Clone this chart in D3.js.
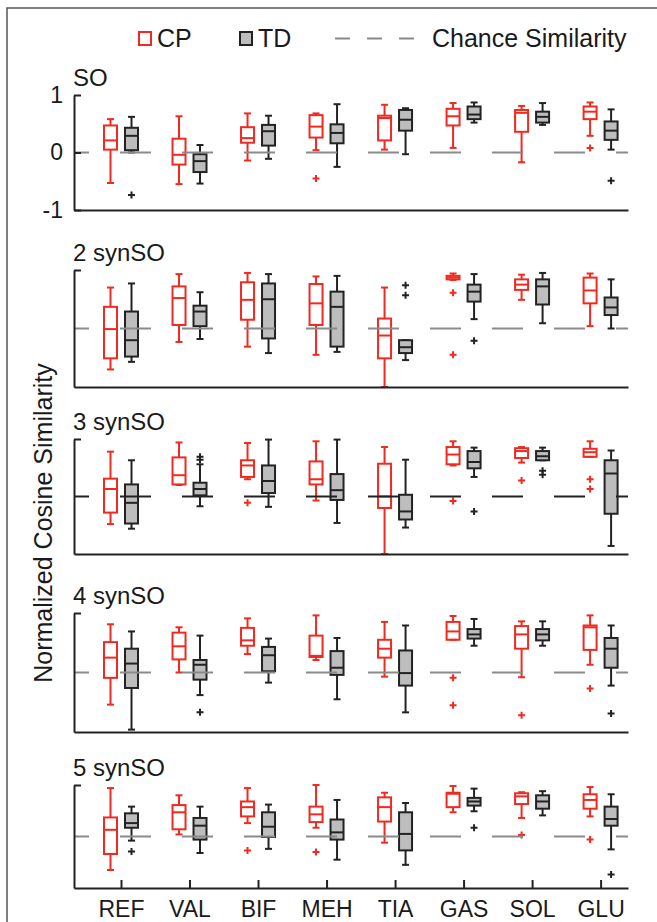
<!DOCTYPE html>
<html><head><meta charset="utf-8">
<script src="https://cdn.jsdelivr.net/npm/d3@7"></script>
<style>body{margin:0;background:#fff}svg{display:block}text{font-family:"Liberation Sans",Arial,sans-serif;fill:#1a1a1a}</style>
</head><body><svg id="c" width="657" height="922"></svg>
<script>
const categories = ["REF","VAL","BIF","MEH","TIA","GAS","SOL","GLU"];
const panelTitles = ["SO","2 synSO","3 synSO","4 synSO","5 synSO"];
const yTickValues = [1,0,-1];
const yTickLabels = ["1","0","-1"];
const legendLabels = ["CP","TD","Chance Similarity"];
const chanceValue = 0;

// [low whisker, q1, median, q3, high whisker]
const cp1 = [[-0.53,0.05,0.21,0.47,0.58],[-0.55,-0.21,-0.04,0.24,0.63],[-0.14,0.17,0.25,0.44,0.68],[0.04,0.26,0.45,0.65,0.68],[0.05,0.21,0.6,0.64,0.83],[0.08,0.47,0.63,0.76,0.86],[-0.17,0.36,0.69,0.74,0.81],[0.29,0.58,0.71,0.8,0.87]];
const cp1Out = [[],[],[],[-0.45],[],[],[],[0.08]];
const td1 = [[0.0,0.04,0.29,0.43,0.62],[-0.54,-0.34,-0.15,-0.03,0.13],[-0.11,0.12,0.37,0.48,0.64],[-0.25,0.16,0.34,0.49,0.84],[-0.03,0.38,0.57,0.74,0.77],[0.52,0.58,0.66,0.8,0.87],[0.48,0.52,0.62,0.71,0.86],[0.05,0.22,0.38,0.54,0.75]];
const td1Out = [[-0.74],[],[],[],[],[],[],[-0.49]];

const cp2 = [[-0.70,-0.51,-0.01,0.37,0.70],[-0.23,0.06,0.52,0.72,0.93],[-0.31,0.15,0.49,0.79,0.95],[-0.45,0.06,0.43,0.76,0.89],[-1.0,-0.51,-0.12,0.17,0.70],[0.83,0.84,0.87,0.90,0.94],[0.49,0.66,0.75,0.84,0.92],[0.04,0.43,0.65,0.87,0.94]];
const cp2Out = [[],[],[],[],[],[0.61,-0.45],[],[]];
const td2 = [[-0.57,-0.48,-0.20,0.29,0.77],[-0.18,0.04,0.29,0.39,0.62],[-0.42,-0.17,0.5,0.77,0.93],[-0.40,-0.31,0.37,0.63,0.90],[-0.54,-0.42,-0.32,-0.20,-0.20],[0.16,0.46,0.63,0.75,0.93],[0.09,0.41,0.72,0.84,0.95],[0.0,0.23,0.36,0.53,0.84]];
const td2Out = [[],[],[],[],[0.74,0.57],[-0.21],[],[]];

const cp3 = [[-0.48,-0.28,0.13,0.31,0.78],[0.20,0.21,0.37,0.68,0.94],[0.30,0.34,0.54,0.63,0.93],[-0.07,0.21,0.30,0.61,0.96],[-1.0,-0.2,0.0,0.57,0.86],[0.54,0.56,0.73,0.86,0.96],[0.59,0.67,0.79,0.84,0.86],[0.69,0.69,0.77,0.83,0.96]];
const cp3Out = [[],[],[-0.11],[],[],[-0.08],[0.28],[0.30,0.13]];
const td3 = [[-0.56,-0.47,-0.11,0.21,0.63],[-0.17,0.02,0.13,0.24,0.56],[-0.18,0.06,0.27,0.54,0.99],[-0.46,-0.06,0.11,0.39,0.99],[-0.54,-0.40,-0.26,0.03,0.64],[0.34,0.49,0.60,0.79,0.85],[0.63,0.63,0.70,0.79,0.85],[-0.86,-0.30,0.40,0.63,0.80]];
const td3Out = [[],[0.69,0.64],[],[],[],[-0.26],[0.45,0.38],[]];

const cp4 = [[-0.54,-0.09,0.25,0.51,0.81],[0.0,0.22,0.44,0.67,0.76],[0.31,0.45,0.54,0.75,0.91],[0.21,0.26,0.28,0.62,0.96],[-0.07,0.25,0.40,0.55,0.85],[0.55,0.55,0.69,0.85,0.95],[-0.08,0.40,0.64,0.78,0.86],[0.13,0.38,0.76,0.79,0.96]];
const cp4Out = [[],[],[],[],[],[-0.09,-0.55],[-0.72],[-0.27]];
const td4 = [[-0.96,-0.26,0.15,0.40,0.69],[-0.38,-0.12,0.13,0.21,0.62],[-0.17,0.02,0.29,0.43,0.57],[-0.45,-0.04,0.08,0.36,0.58],[-0.67,-0.22,-0.01,0.37,0.79],[0.45,0.57,0.64,0.73,0.90],[0.45,0.54,0.64,0.73,0.86],[-0.22,0.08,0.40,0.58,0.79]];
const td4Out = [[],[-0.67],[],[],[],[],[],[-0.69]];

const cp5 = [[-0.65,-0.34,0.13,0.37,0.94],[0.04,0.14,0.47,0.61,0.80],[0.26,0.39,0.57,0.68,0.94],[0.17,0.28,0.43,0.58,1.0],[-0.12,0.29,0.57,0.76,0.85],[0.47,0.57,0.83,0.85,0.98],[0.36,0.63,0.78,0.84,0.86],[0.39,0.54,0.71,0.82,0.96]];
const cp5Out = [[],[],[-0.27],[-0.30],[],[],[0.03],[-0.06]];
const td5 = [[-0.08,0.17,0.26,0.45,0.58],[-0.32,-0.06,0.21,0.36,0.58],[-0.24,-0.01,0.19,0.47,0.62],[-0.45,-0.06,0.08,0.33,0.71],[-0.55,-0.27,0.05,0.47,0.65],[0.49,0.60,0.68,0.75,0.93],[0.41,0.54,0.68,0.80,0.88],[-0.25,0.21,0.34,0.58,0.82]];
const td5Out = [[-0.29],[],[],[],[],[0.17],[],[-0.74]];

const cpStats = [cp1,cp2,cp3,cp4,cp5];
const cpOut = [cp1Out,cp2Out,cp3Out,cp4Out,cp5Out];
const tdStats = [td1,td2,td3,td4,td5];
const tdOut = [td1Out,td2Out,td3Out,td4Out,td5Out];

// layout / style
const RED = "#f02a20", DARK = "#222", TDFILL = "#bdbdbd", CHANCE = "#8a8a8a";
const panelTop = [95,270,439,613,785];
const panelBottom = [210,387,554,732,888];
const chanceColor = [CHANCE,CHANCE,DARK,CHANCE,CHANCE];
const axisX0 = 74, axisX1 = 628;
const boxW = 13, capW = 7, offset = 10.5;

const svg = d3.select("#c");
// frame
svg.append("path").attr("d","M7,922V8H657").attr("fill","none").attr("stroke","#555").attr("stroke-width",1.5);

const x = d3.scaleLinear().domain([-0.686, 7.4]).range([axisX0, axisX1]);

// legend
const lg = svg.append("g");
lg.append("rect").attr("x",139).attr("y",32).attr("width",12).attr("height",13).attr("fill","#fff").attr("stroke",RED).attr("stroke-width",2);
lg.append("text").attr("x",157).attr("y",47).attr("font-size",25).text(legendLabels[0]);
lg.append("rect").attr("x",240).attr("y",32).attr("width",12).attr("height",13).attr("fill",TDFILL).attr("stroke",DARK).attr("stroke-width",2);
lg.append("text").attr("x",258).attr("y",47).attr("font-size",25).text(legendLabels[1]);
lg.append("line").attr("x1",335).attr("x2",415).attr("y1",38.5).attr("y2",38.5).attr("stroke",CHANCE).attr("stroke-width",2).attr("stroke-dasharray","15,17");
lg.append("text").attr("x",432).attr("y",47).attr("font-size",25).text(legendLabels[2]);

// y label
svg.append("text").attr("transform","translate(52,523) rotate(-90)").attr("text-anchor","middle").attr("font-size",25).text("Normalized Cosine Similarity");

function plus(g, cx, cy, color){
  g.append("path").attr("d",`M${cx-3.5},${cy}H${cx+3.5}M${cx},${cy-3.5}V${cy+3.5}`).attr("stroke",color).attr("stroke-width",2);
}

function drawBox(g, y, cx, s, outs, stroke, fill){
  const [lo,q1,md,q3,hi] = s;
  g.append("line").attr("x1",cx).attr("x2",cx).attr("y1",y(hi)).attr("y2",y(q3)).attr("stroke",stroke).attr("stroke-width",2);
  g.append("line").attr("x1",cx).attr("x2",cx).attr("y1",y(q1)).attr("y2",y(lo)).attr("stroke",stroke).attr("stroke-width",2);
  g.append("line").attr("x1",cx-capW/2).attr("x2",cx+capW/2).attr("y1",y(hi)).attr("y2",y(hi)).attr("stroke",stroke).attr("stroke-width",2);
  g.append("line").attr("x1",cx-capW/2).attr("x2",cx+capW/2).attr("y1",y(lo)).attr("y2",y(lo)).attr("stroke",stroke).attr("stroke-width",2);
  g.append("rect").attr("x",cx-boxW/2).attr("y",y(q3)).attr("width",boxW).attr("height",Math.max(1,y(q1)-y(q3))).attr("fill",fill).attr("stroke",stroke).attr("stroke-width",2);
  g.append("line").attr("x1",cx-boxW/2).attr("x2",cx+boxW/2).attr("y1",y(md)).attr("y2",y(md)).attr("stroke",stroke).attr("stroke-width",2);
  outs.forEach(o => plus(g, cx, y(o), stroke));
}

panelTitles.forEach((title, p) => {
  const y = d3.scaleLinear().domain([-1,1]).range([panelBottom[p], panelTop[p]]);
  const g = svg.append("g");
  g.append("text").attr("x",73).attr("y",panelTop[p]-9).attr("font-size",24).text(title);

  categories.forEach((c,i) => {
    drawBox(g, y, x(i)-offset, cpStats[p][i], cpOut[p][i], RED, "none");
    drawBox(g, y, x(i)+offset, tdStats[p][i], tdOut[p][i], DARK, TDFILL);
  });

  g.append("line").attr("x1",axisX0).attr("x2",axisX1).attr("y1",y(chanceValue)).attr("y2",y(chanceValue))
    .attr("stroke",chanceColor[p]).attr("stroke-width",2).attr("stroke-dasharray","31,31").attr("stroke-dashoffset",16);

  const yAxis = d3.axisLeft(y).tickValues(p===0 ? yTickValues : [1]).tickSize(-7).tickSizeOuter(0)
      .tickFormat((d)=> p===0 ? yTickLabels[yTickValues.indexOf(d)] : "");
  const ya = g.append("g").attr("transform",`translate(${axisX0},0)`).call(yAxis);
  ya.select(".domain").attr("stroke",DARK).attr("stroke-width",2);
  ya.selectAll(".tick line").attr("stroke",DARK).attr("stroke-width",2);
  ya.selectAll(".tick text").attr("font-size",23).attr("x",-11).attr("fill","#1a1a1a").style("font-family","Liberation Sans, Arial, sans-serif");

  const xAxis = d3.axisBottom(x).tickValues(p===4 ? d3.range(categories.length) : []).tickSize(-8).tickSizeOuter(0)
      .tickFormat(i => categories[i]);
  const xa = g.append("g").attr("transform",`translate(0,${panelBottom[p]})`).call(xAxis);
  xa.select(".domain").attr("stroke",DARK).attr("stroke-width",2);
  xa.selectAll(".tick line").attr("stroke",DARK).attr("stroke-width",2);
  xa.selectAll(".tick text").attr("font-size",23).attr("y",13).attr("dy","0.71em").attr("fill","#1a1a1a").style("font-family","Liberation Sans, Arial, sans-serif");
});
</script></body></html>
